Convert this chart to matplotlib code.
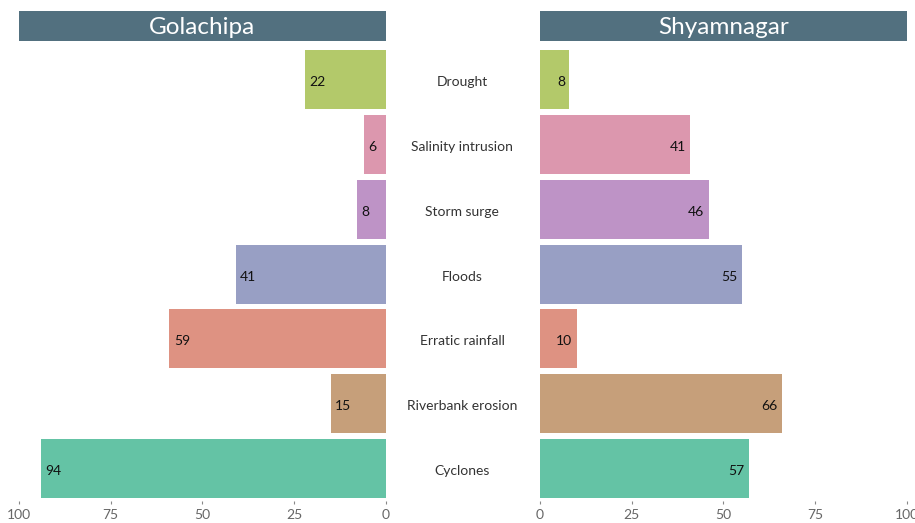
import matplotlib.pyplot as plt

plt.rcParams['font.family'] = ['Lato', 'DejaVu Sans']

hazards = ["Drought", "Salinity intrusion", "Storm surge", "Floods",
           "Erratic rainfall", "Riverbank erosion", "Cyclones"]
golachipa = [22, 6, 8, 41, 59, 15, 94]
shyamnagar = [8, 41, 46, 55, 10, 66, 57]
colors = ["#b3c96a", "#dc97ae", "#be93c6", "#989fc4",
          "#de9282", "#c69f7a", "#64c3a5"]
ticks = [0, 25, 50, 75, 100]

header_color = "#52707f"

fig = plt.figure(figsize=(9.15, 5.23), dpi=100)

ax_l = fig.add_axes([0.0208, 0.042, 0.401, 0.868])
ax_r = fig.add_axes([0.5902, 0.042, 0.401, 0.868])

ypos = list(range(len(hazards)))
nudge = 0.04  # text sits a touch below the bar centre

for ax, vals, name, side in [(ax_l, golachipa, "Golachipa", "left"),
                             (ax_r, shyamnagar, "Shyamnagar", "right")]:
    ax.barh(ypos, vals, height=0.91, color=colors)
    ax.set_xlim(0, 100)
    ax.set_ylim(6.5, -0.5)
    ax.set_yticks([])
    ax.set_xticks(ticks)
    ax.tick_params(axis='x', length=2, width=0.8, color="#888888",
                   labelcolor="#666666", labelsize=10, pad=4)
    for s in ax.spines.values():
        s.set_visible(False)
    for y, v in zip(ypos, vals):
        ax.text(v - 1.2, y + nudge, str(v), ha=side, va='center',
                fontsize=10, color="#111111")

    # header band above each panel
    box = ax.get_position()
    hx = fig.add_axes([box.x0, 0.9216, box.width, 0.0574])
    hx.set_facecolor(header_color)
    hx.set_xticks([])
    hx.set_yticks([])
    for s in hx.spines.values():
        s.set_visible(False)
    hx.text(0.5, 0.45, name, ha='center', va='center', color='white',
            fontsize=17.5, transform=hx.transAxes)

ax_l.invert_xaxis()

# hazard names between the panels
for y, h in zip(ypos, hazards):
    ax_l.annotate(h, xy=(0, y + nudge), xycoords=('axes fraction', 'data'),
                  xytext=(0.505, 0), textcoords=('figure fraction', 'offset points'),
                  ha='center', va='center', fontsize=10, color="#333333")

fig.savefig("out.png", dpi=100)
